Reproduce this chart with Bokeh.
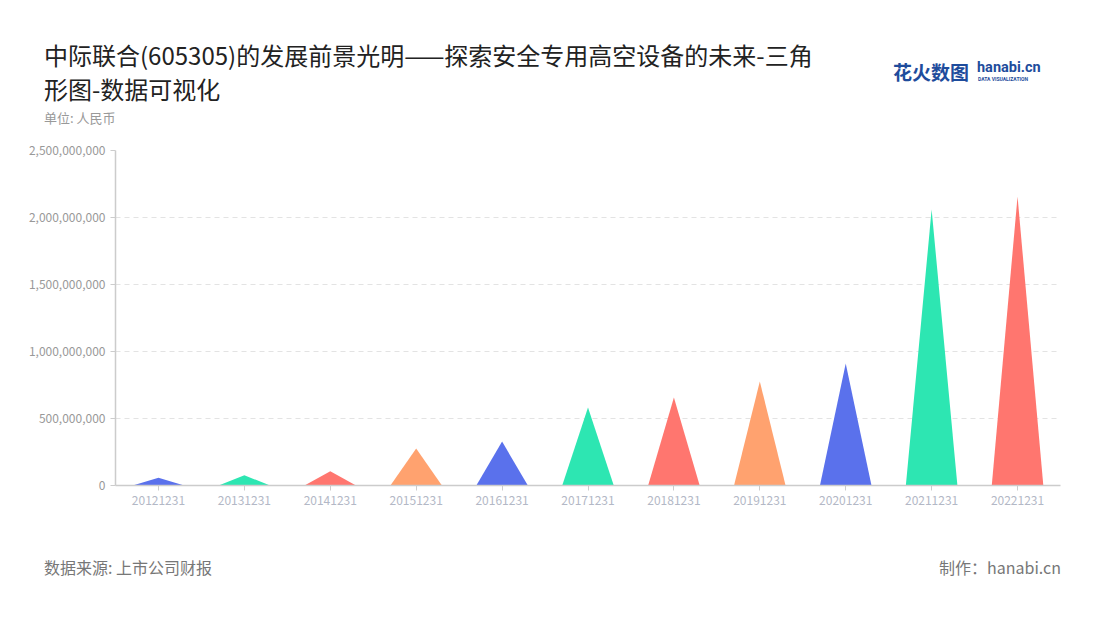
from bokeh.plotting import figure
from bokeh.models import FactorRange, Range1d, NumeralTickFormatter, SingleIntervalTicker, ColumnDataSource, Div
from bokeh.layouts import column
from bokeh.embed import file_html
from bokeh.resources import INLINE

# ---- data ----
dates = ["20121231", "20131231", "20141231", "20151231", "20161231", "20171231",
         "20181231", "20191231", "20201231", "20211231", "20221231"]
values = [58e6, 76e6, 106e6, 276e6, 328e6, 582e6, 657e6, 776e6, 910e6, 2060e6, 2157e6]
palette = ["#5A71EC", "#2DE6B2", "#FF766F", "#FFA26F"]

title_line1 = "中际联合(605305)的发展前景光明——探索安全专用高空设备的未来-三角"
title_line2 = "形图-数据可视化"
unit_text = "单位: 人民币"
source_text = "数据来源: 上市公司财报"
maker_text = "制作：hanabi.cn"

FONT = "Noto Sans CJK SC"

# ---- figure ----
p = figure(x_range=FactorRange(factors=dates), y_range=Range1d(0, 2.5e9),
           width=1100, height=405, output_backend="svg", toolbar_location=None,
           min_border_left=115, min_border_right=40, min_border_top=10, min_border_bottom=60)
p.outline_line_color = None
p.background_fill_color = "white"
p.border_fill_color = "white"

# triangles (pictorial bars)
half = 0.3
xs, ys, cols = [], [], []
for i, (d, v) in enumerate(zip(dates, values)):
    c = i + 0.5
    xs.append([c - half, c, c + half])
    ys.append([0, v, 0])
    cols.append(palette[i % len(palette)])
src = ColumnDataSource(dict(xs=xs, ys=ys, color=cols))
p.patches("xs", "ys", source=src, fill_color="color", line_color=None)

# axes
p.yaxis.ticker = SingleIntervalTicker(interval=500_000_000)
p.yaxis.formatter = NumeralTickFormatter(format="0,0")
for ax in (p.xaxis[0], p.yaxis[0]):
    ax.axis_line_color = "#cccccc"
    ax.axis_line_width = 1.5
    ax.major_tick_line_color = "#cccccc"
    ax.major_tick_out = 5
    ax.major_tick_in = 0
    ax.minor_tick_line_color = None
    ax.major_label_text_font = FONT
    ax.major_label_text_font_size = "12px"
    ax.major_label_standoff = 5
p.yaxis.major_label_text_color = "#999999"
p.xaxis.major_label_text_color = "#b3b8c6"

p.xgrid.visible = False
p.ygrid.grid_line_color = "#e3e3e3"
p.ygrid.grid_line_dash = "5 4"
p.ygrid.grid_line_width = 1.2

# ---- header / footer ----
def span(text, left, top, size, color, lh, weight="normal", font=FONT, extra=""):
    return (f'<div style="position:absolute;left:{left}px;top:{top}px;font-family:\'{font}\';'
            f'font-size:{size};line-height:{lh}px;color:{color};font-weight:{weight};white-space:nowrap;{extra}">'
            f'{text}</div>')

header_html = (
    '<div style="position:relative;width:1100px;height:140px;">'
    + span(title_line1, 44, 42, "24px", "#222222", 26)
    + span(title_line2, 44, 76, "24px", "#222222", 26)
    + span(unit_text, 44, 111, "13px", "#999999", 14)
    + span("花火数图", 893, 60, "19px", "#1E4C9C", 24, weight="bold")
    + span("hanabi.cn", 977, 59, "14.5px", "#1E4C9C", 18, weight="bold", font="Roboto")
    + span("DATA VISUALIZATION", 978, 76, "5px", "#1E4C9C", 6, weight="bold", font="Roboto")
    + '</div>'
)
header = Div(text=header_html, width=1100, height=140, margin=0)

footer_html = (
    '<div style="position:relative;width:1100px;height:75px;">'
    + span(source_text, 44, 12, "16px", "#777777", 20)
    + span(maker_text, 0, 12, "16px", "#777777", 20, extra="width:1061px;text-align:right;")
    + '</div>'
)
footer = Div(text=footer_html, width=1100, height=75, margin=0)

layout = column(header, p, footer, spacing=0)

open("out.html", "w").write(file_html(layout, INLINE))
